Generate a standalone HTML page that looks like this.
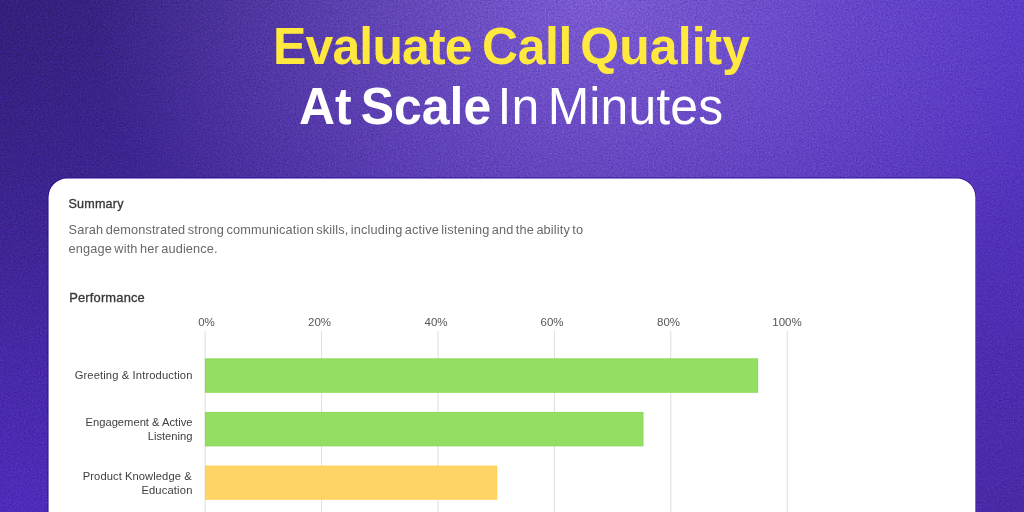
<!DOCTYPE html>
<html lang="en">
<head>
<meta charset="utf-8">
<title>Evaluate Call Quality At Scale In Minutes</title>
<style>
  html, body { margin: 0; padding: 0; }
  body {
    width: 1024px; height: 512px; overflow: hidden; position: relative;
    font-family: "Liberation Sans", sans-serif;
    background: #4a2aa6;
  }
  .bg { position: absolute; left: 0; top: 0; width: 1024px; height: 512px; }
  .bg-bottom {
    background: linear-gradient(to right, #4f2dbb 0%, #4a2aa6 100%);
  }
  .bg-top {
    background: linear-gradient(to right, #33207a 0%, #5536c4 100%);
    -webkit-mask-image: linear-gradient(to bottom, rgba(0,0,0,1) 0%, rgba(0,0,0,.78) 30%, rgba(0,0,0,.58) 50%, rgba(0,0,0,.31) 70%, rgba(0,0,0,0) 100%);
            mask-image: linear-gradient(to bottom, rgba(0,0,0,1) 0%, rgba(0,0,0,.78) 30%, rgba(0,0,0,.58) 50%, rgba(0,0,0,.31) 70%, rgba(0,0,0,0) 100%);
  }
  .bg-glow {
    background: radial-gradient(ellipse 500px 400px at 590px 0px,
      rgba(174,136,254,0.50) 0%, rgba(174,136,254,0) 100%);
  }
  .noise { position: absolute; left: 0; top: 0; mix-blend-mode: overlay; opacity: 0.43; }
  .t { position: absolute; white-space: nowrap; line-height: 1; margin: 0; }
  h1.title { margin: 0; font-size: 52px; font-weight: 700; }
  .hl { display: block; font-size: 52px; font-weight: 700; transform-origin: 0 0; transform: scaleX(0.96); }
  #h1a { left: 273px; top: 20px; color: #ffe93e; letter-spacing: -0.4px; word-spacing: -5.2px; }
  #h1a .w1 { letter-spacing: -0.85px; }
  #h1a .w2 { margin-left: 1.8px; }
  #h1a .w3 { letter-spacing: 0.1px; margin-left: -0.3px; }
  #h1b { left: 298.6px; top: 79.8px; color: #ffffff; word-spacing: -5px; }
  #h1b .lite { font-weight: 400; word-spacing: -6px; margin-left: -2.8px; letter-spacing: 0.12px; }

  .card { position: absolute; left: 0; top: 0; }
  .sec { font-size: 12.6px; letter-spacing: 0.18px; font-weight: 400; color: #383838; -webkit-text-stroke: 0.32px #383838; }
  #summary { left: 68.5px; top: 197.6px; }
  #perf { left: 69.2px; top: 292px; font-size: 12.9px; }
  .para { font-size: 12.75px; color: #686868; letter-spacing: 0.14px; word-spacing: -1.3px; }
  #p1 { left: 68.6px; top: 223.6px; }
  #p2 { left: 68.6px; top: 243px; }

  .tick { font-size: 11.5px; color: #555; transform: translateX(-50%); top: 316.7px; }
  .chart { position: absolute; left: 0; top: 0; }
  .lab { font-size: 11.2px; color: #404040; right: 831.5px; text-align: right; }
</style>
</head>
<body>
  <div class="bg bg-bottom"></div>
  <div class="bg bg-top"></div>
  <div class="bg bg-glow"></div>
  <svg class="noise" width="1024" height="512" viewBox="0 0 1024 512" aria-hidden="true">
    <filter id="grain" x="0" y="0" width="100%" height="100%" color-interpolation-filters="sRGB">
      <feTurbulence type="fractalNoise" baseFrequency="0.62" numOctaves="2" seed="7" stitchTiles="stitch" result="t"/>
      <feColorMatrix type="matrix" values="0.6 0.4 0 0 0  0.6 0.4 0 0 0  0.6 0.4 0 0 0  0 0 0 0 1"/>
    </filter>
    <rect width="1024" height="512" filter="url(#grain)"/>
  </svg>

  <h1 class="title">
    <span class="t hl" id="h1a"><span class="w1">Evaluate</span> <span class="w2">Call</span> <span class="w3">Quality</span></span>
    <span class="t hl" id="h1b">At Scale <span class="lite">In Minutes</span></span>
  </h1>

  <svg class="card" width="1024" height="512" viewBox="0 0 1024 512" aria-hidden="true">
    <rect x="47.5" y="177.5" width="928.5" height="400" rx="19.5" ry="19.5" fill="#2a0893" fill-opacity="0.85"/>
    <rect x="48.55" y="178.5" width="926.85" height="400" rx="18.5" ry="18.5" fill="#ffffff"/>
  </svg>

  <div class="t sec" id="summary">Summary</div>
  <div class="t para" id="p1">Sarah demonstrated strong communication skills, including active listening and the ability to</div>
  <div class="t para" id="p2">engage with her audience.</div>
  <div class="t sec" id="perf">Performance</div>

  <div class="t tick" id="t0" style="left:206.5px">0%</div>
  <div class="t tick" id="t20" style="left:319.5px">20%</div>
  <div class="t tick" id="t40" style="left:436px">40%</div>
  <div class="t tick" id="t60" style="left:552px">60%</div>
  <div class="t tick" id="t80" style="left:668.5px">80%</div>
  <div class="t tick" id="t100" style="left:787px">100%</div>

  <svg class="chart" width="1024" height="512" viewBox="0 0 1024 512">
    <g fill="#dedede">
      <rect x="204.65" y="330.9" width="1" height="190"/>
      <rect x="321.1" y="330.9" width="1" height="190"/>
      <rect x="437.5" y="330.9" width="1" height="190"/>
      <rect x="553.9" y="330.9" width="1" height="190"/>
      <rect x="670.3" y="330.9" width="1" height="190"/>
      <rect x="786.7" y="330.9" width="1" height="190"/>
    </g>
    <rect x="204.9" y="358.3" width="553.2" height="34.5" fill="#8cda5a"/>
    <rect x="205.9" y="359.3" width="551.2" height="32.5" fill="#93de63"/>
    <rect x="204.9" y="411.95" width="438.6" height="34.4" fill="#8cda5a"/>
    <rect x="205.9" y="412.95" width="436.6" height="32.4" fill="#93de63"/>
    <rect x="204.9" y="465.6" width="292.35" height="34.2" fill="#ffd05a"/>
    <rect x="205.9" y="466.6" width="290.35" height="32.2" fill="#ffd466"/>
  </svg>
  <div class="t lab" id="l1" style="top:370px; letter-spacing:0.12px">Greeting &amp; Introduction</div>
  <div class="t lab" id="l2a" style="top:417px">Engagement &amp; Active</div>
  <div class="t lab" id="l2b" style="top:430.5px">Listening</div>
  <div class="t lab" id="l3a" style="top:470.5px; letter-spacing:0.07px; right:832.3px">Product Knowledge &amp;</div>
  <div class="t lab" id="l3b" style="top:484.7px; letter-spacing:0.15px">Education</div>
</body>
</html>
